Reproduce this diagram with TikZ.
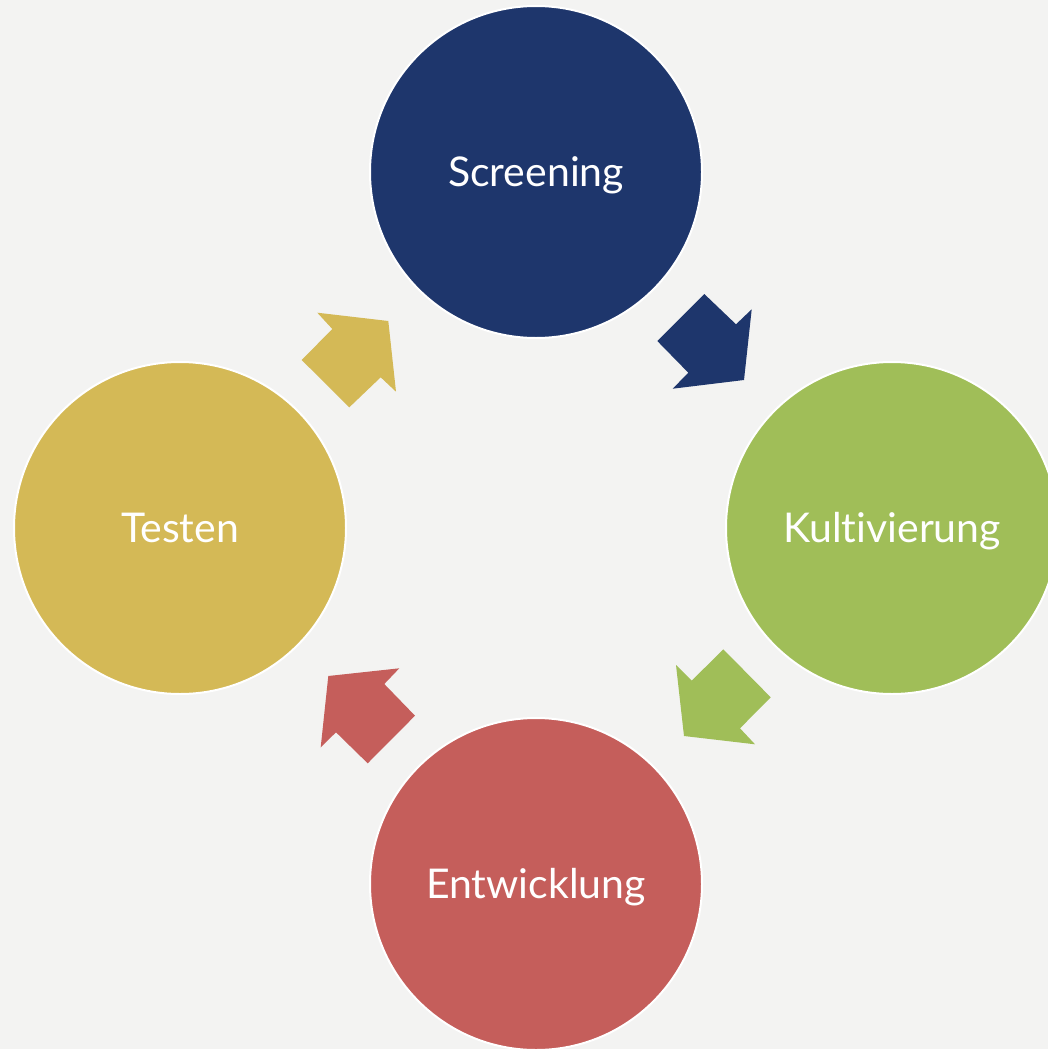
\documentclass[tikz,border=0pt]{standalone}
\usepackage{fontspec}
\setmainfont{Lato}[Ligatures=NoCommon]
\definecolor{bg}{RGB}{243,243,242}
\definecolor{navy}{RGB}{30,54,108}
\definecolor{olive}{RGB}{160,190,88}
\definecolor{brick}{RGB}{197,94,91}
\definecolor{gold}{RGB}{212,185,86}
\begin{document}
\begin{tikzpicture}[x=1pt,y=-1pt,
  stage/.style={circle,draw=white,line width=2pt,minimum size=332pt,inner sep=0pt},
  lbl/.style={anchor=base,text=white,font=\fontsize{41}{48}\selectfont,inner sep=0pt},
  blockarrow/.style={draw=none}]
\fill[bg] (0,0) rectangle (1048,1049);
\useasboundingbox (0,0) rectangle (1048,1049);
\node[stage,fill=navy] (scr) at (536,172) {};
\node[stage,fill=olive] (kul) at (892,528) {};
\node[stage,fill=brick] (ent) at (536,884) {};
\node[stage,fill=gold] (tes) at (180,528) {};
\node[lbl] (tscr) at ([yshift=-14pt]scr.center) {Screening};
\node[lbl] (tkul) at ([yshift=-14pt]kul.center) {Kult{}ivierung};
\node[lbl] (tent) at ([yshift=-14pt]ent.center) {Entwicklung};
\node[lbl] (ttes) at ([yshift=-14pt]tes.center) {Testen};
% block arrows
\fill[navy,blockarrow] (657.3,341) -- (704.3,294) -- (736,324.3) -- (751.7,309.3) -- (744,380) -- (672.7,388.7) -- (688.3,372.7) -- cycle;
\fill[olive,blockarrow] (723.3,649.3) -- (770.7,697.3) -- (740,728.3) -- (755,744.3) -- (684,736) -- (676,665) -- (691.7,680.7) -- cycle;
\fill[brick,blockarrow] (415,715.7) -- (367.7,763.3) -- (336,732.3) -- (320.7,747.3) -- (328.3,676) -- (399.3,668.3) -- (384.3,684) -- cycle;
\fill[gold,blockarrow] (349.3,407.3) -- (301.7,360) -- (332.3,329) -- (317.3,312.7) -- (388.3,321) -- (396,391.7) -- (380.7,377.3) -- cycle;
\end{tikzpicture}
\end{document}
